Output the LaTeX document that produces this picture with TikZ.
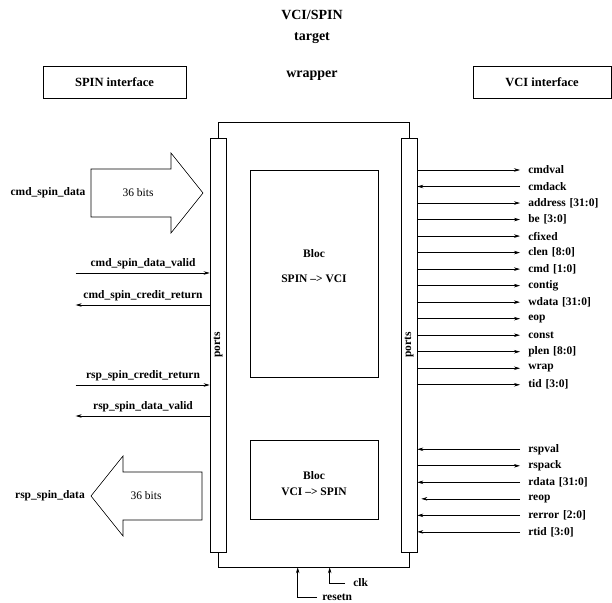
\documentclass[tikz,border=0pt]{standalone}
\usepackage{fontspec}
\setmainfont{Liberation Serif}
\usetikzlibrary{arrows.meta, positioning, calc}
\tikzstyle{iface} = [rectangle, minimum height=32pt, draw=black, font=\bfseries\fontsize{12.5}{14}\selectfont]
\tikzstyle{bloc} = [rectangle, minimum width=128pt, draw=black]
\tikzstyle{bar} = [rectangle, minimum width=16pt, minimum height=414pt, inner sep=0pt, draw=black, fill=white]
\tikzstyle{sigr} = [anchor=west, text width=90pt, align=left, minimum height=15.92pt, inner ysep=0pt, inner xsep=8pt]
\tikzstyle{sigl} = [anchor=south, text width=134pt, align=center, inner xsep=0pt, inner ysep=3.5pt]
\tikzstyle{title} = [font=\bfseries\fontsize{14}{16}\selectfont]
\tikzstyle{plain} = [font=\fontsize{11.5}{13}\selectfont]
\tikzstyle{arrow} = [line width=0.6pt, -{Stealth[length=6pt, width=3.5pt]}]
\tikzstyle{bigarrow} = [line width=0.6pt, line join=miter]

\begin{document}
\begin{tikzpicture}[x=1pt, y=1pt, line width=0.6pt,
  every node/.style={font=\bfseries\fontsize{11.5}{13}\selectfont}]
\useasboundingbox (0,0) rectangle (612,602);

% Title and the two interfaces
\node (t1) [title] at (312,587) {VCI/SPIN};
\node (t2) [title] at (312,564) {target};
\node (t3) [title] at (312,526) {wrapper};
\node (spinif) [iface, minimum width=143pt] at (114.5,520) {SPIN interface};
\node (vciif) [iface, minimum width=138pt] at (542,520) {VCI interface};

% Wrapper with its two port bars
\node (wrapper) [draw, minimum width=191pt, minimum height=445pt, inner sep=0pt] at (313.5,257.5) {};
\node (pl) [bar] at (218,257) {};
\node (pr) [bar] at (409,257) {};
\node [rotate=90] at (pl) {ports};
\node [rotate=90] at (pr) {ports};

% Inner blocs
\node (spin2vci) [bloc, minimum height=207pt] at (314,328.5) {};
\node (spin2vcitxt) [align=center] at ($(spin2vci)+(0,7)$) {Bloc\\[12pt]SPIN --> VCI};
\node (vci2spin) [bloc, minimum height=79pt] at (314,122.5) {};
\node (vci2spintxt) [align=center] at ($(vci2spin)+(0,-4)$) {Bloc\\[2.5pt]VCI --> SPIN};

% SPIN side: data arrows
\draw[bigarrow] (91,433) -- (171,433) -- (171,449) -- (203,409) -- (171,369) -- (171,385) -- (91,385) -- cycle;
\node (cmdbits) [plain] at (138,409) {36 bits};
\node (cmddata) at (48,409) {cmd\_spin\_data};
\draw[bigarrow] (202,130) -- (123,130) -- (123,146) -- (91,106) -- (123,66) -- (123,82) -- (202,82) -- cycle;
\node (rspbits) [plain] at (146,106) {36 bits};
\node (rspdata) at (50,106) {rsp\_spin\_data};

% SPIN side: control signals
\node (cmdvalid) [sigl] at (143,329) {cmd\_spin\_data\_valid};
\node (cmdcredit) [sigl] at (143,297) {cmd\_spin\_credit\_return};
\node (rspcredit) [sigl] at (143,217) {rsp\_spin\_credit\_return};
\node (rspvalid) [sigl] at (143,186) {rsp\_spin\_data\_valid};
\draw[arrow] (cmdvalid.south west) -- (cmdvalid.south west -| pl.west);
\draw[arrow] (cmdcredit.south west -| pl.west) -- (cmdcredit.south west);
\draw[arrow] (rspcredit.south west) -- (rspcredit.south west -| pl.west);
\draw[arrow] (rspvalid.south west -| pl.west) -- (rspvalid.south west);

% VCI side: command signals
\node (cmdval) [sigr] at (520,432) {cmdval};
\node (cmdack) [sigr, below=0pt of cmdval] {cmdack};
\node (address) [sigr, below=0pt of cmdack] {address [31:0]};
\node (be) [sigr, below=0pt of address] {be [3:0]};
\node (cfixed) [sigr, below=0pt of be] {cfixed};
\node (clen) [sigr, below=0pt of cfixed] {clen [8:0]};
\node (cmd) [sigr, below=0pt of clen] {cmd [1:0]};
\node (contig) [sigr, below=0pt of cmd] {contig};
\node (wdata) [sigr, below=0pt of contig] {wdata [31:0]};
\node (eop) [sigr, below=0pt of wdata] {eop};
\node (const) [sigr, below=0pt of eop] {const};
\node (plen) [sigr, below=0pt of const] {plen [8:0]};
\node (wrap) [sigr, below=0pt of plen] {wrap};
\node (tid) [sigr, below=0pt of wrap] {tid [3:0]};
\draw[arrow] (pr.east |- cmdval.west) -- (cmdval.west);
\draw[arrow] (cmdack.west) -- (pr.east |- cmdack.west);
\draw[arrow] (pr.east |- address.west) -- (address.west);
\draw[arrow] (pr.east |- be.west) -- (be.west);
\draw[arrow] (pr.east |- cfixed.west) -- (cfixed.west);
\draw[arrow] (pr.east |- clen.west) -- (clen.west);
\draw[arrow] (pr.east |- cmd.west) -- (cmd.west);
\draw[arrow] (pr.east |- contig.west) -- (contig.west);
\draw[arrow] (pr.east |- wdata.west) -- (wdata.west);
\draw[arrow] (pr.east |- eop.west) -- (eop.west);
\draw[arrow] (pr.east |- const.west) -- (const.west);
\draw[arrow] (pr.east |- plen.west) -- (plen.west);
\draw[arrow] (pr.east |- wrap.west) -- (wrap.west);
\draw[arrow] (pr.east |- tid.west) -- (tid.west);

% VCI side: response signals
\node (rspval) [sigr, below=48pt of tid] {rspval};
\node (rspack) [sigr, below=0pt of rspval] {rspack};
\node (rdata) [sigr, below=0pt of rspack] {rdata [31:0]};
\node (reop) [sigr, below=0pt of rdata] {reop};
\node (rerror) [sigr, below=0pt of reop] {rerror [2:0]};
\node (rtid) [sigr, below=0pt of rerror] {rtid [3:0]};
\draw[arrow] (rspval.west) -- (pr.east |- rspval.west);
\draw[arrow] (pr.east |- rspack.west) -- (rspack.west);
\draw[arrow] (rdata.west) -- (pr.east |- rdata.west);
\draw[arrow] (reop.west) -- ([xshift=4pt]pr.east |- reop.west);
\draw[arrow] (rerror.west) -- (pr.east |- rerror.west);
\draw[arrow] (rtid.west) -- (pr.east |- rtid.west);

% Clock and reset
\node (clk) [anchor=west, inner xsep=8pt] at (345,19) {clk};
\node (resetn) [anchor=west, inner xsep=5pt] at (317,5) {resetn};
\draw[arrow] (clk.west) -| ($(wrapper.south west)+(112,0)$);
\draw[arrow] (resetn.west) -| ($(wrapper.south west)+(80,0)$);

\end{tikzpicture}
\end{document}
